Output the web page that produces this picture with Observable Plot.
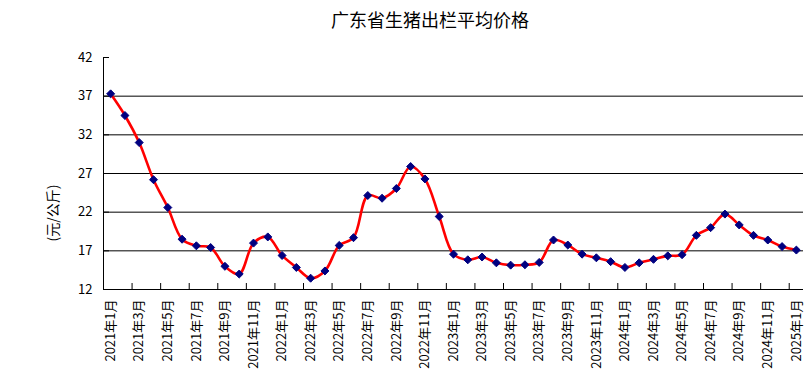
<!DOCTYPE html>
<html>
<head>
<meta charset="utf-8">
<script src="https://cdn.jsdelivr.net/npm/d3@7"></script>
<script src="https://cdn.jsdelivr.net/npm/@observablehq/plot@0.6"></script>
<style>
  html, body { margin: 0; padding: 0; background: #fff; }
  #wrap { position: relative; width: 810px; height: 386px; font-family: "Noto Sans CJK SC", sans-serif; }
  #title { position: absolute; left: 0; width: 860px; top: 9px; text-align: center; font-size: 18px; line-height: 20px; color: #000; }
  #ylab { position: absolute; left: 52px; top: 213px; transform: translate(-50%, -50%) rotate(-90deg); font-size: 14px; line-height: 16px; white-space: nowrap; color: #000; }
  #chart { position: absolute; left: 0; top: 0; }
</style>
</head>
<body>
<div id="wrap">
  <div id="chart"></div>
  <div id="title">广东省生猪出栏平均价格</div>
  <div id="ylab">(元/公斤)</div>
</div>
<script>
const months = [
  "2021年1月","2021年2月","2021年3月","2021年4月","2021年5月","2021年6月","2021年7月","2021年8月","2021年9月","2021年10月","2021年11月","2021年12月",
  "2022年1月","2022年2月","2022年3月","2022年4月","2022年5月","2022年6月","2022年7月","2022年8月","2022年9月","2022年10月","2022年11月","2022年12月",
  "2023年1月","2023年2月","2023年3月","2023年4月","2023年5月","2023年6月","2023年7月","2023年8月","2023年9月","2023年10月","2023年11月","2023年12月",
  "2024年1月","2024年2月","2024年3月","2024年4月","2024年5月","2024年6月","2024年7月","2024年8月","2024年9月","2024年10月","2024年11月","2024年12月",
  "2025年1月"
];
const prices = [
  37.3, 34.5, 31.0, 26.2, 22.6, 18.5, 17.65, 17.43, 15.0, 14.0, 18.0, 18.8,
  16.4, 14.85, 13.46, 14.4, 17.7, 18.7, 24.15, 23.8, 25.06, 27.9, 26.3, 21.44,
  16.57, 15.84, 16.2, 15.45, 15.15, 15.2, 15.5, 18.4, 17.75, 16.57, 16.1, 15.6,
  14.85, 15.45, 15.9, 16.35, 16.5, 19.0, 20.0, 21.75, 20.35, 19.0, 18.4, 17.55,
  17.1
];
const yTicks = [12, 17, 22, 27, 32, 37, 42];
const gridValues = [17, 22, 27, 32, 37];

const data = months.map((m, i) => ({i, month: m, price: prices[i]}));
const labelIdx = months.map((m, i) => i).filter(i => i % 2 === 0);
const tickIdx = months.map((m, i) => i - 0.5).filter((v, k) => k % 2 === 0);
const xMin = -0.5, xMax = months.length - 0.5;

const chart = Plot.plot({
  width: 810,
  height: 386,
  marginLeft: 103,
  marginRight: 7,
  marginTop: 57,
  marginBottom: 97,
  style: {fontFamily: "'Noto Sans CJK SC', sans-serif", fontSize: "13px", color: "#000", background: "transparent"},
  x: {type: "linear", domain: [xMin, xMax], label: null},
  y: {domain: [12, 42], label: null},
  marks: [
    Plot.gridY(gridValues, {stroke: "#000", strokeOpacity: 1, strokeWidth: 1}),
    Plot.ruleX([xMin], {stroke: "#000"}),
    Plot.ruleY([12], {stroke: "#000"}),
    Plot.axisY(yTicks, {tickSize: -6, tickFormat: () => "", stroke: "#000", label: null}),
    Plot.axisY(yTicks, {tickSize: 0, tickPadding: 11, label: null, fill: "#000", fontSize: 13}),
    Plot.axisX(tickIdx, {tickSize: -6, tickFormat: () => "", stroke: "#000", label: null}),
    Plot.axisX(labelIdx, {tickSize: 0, tickPadding: 10, tickRotate: -90, tickFormat: i => months[i], label: null, fill: "#000", fontSize: 13}),
    Plot.line(data, {x: "i", y: "price", stroke: "#ff0000", strokeWidth: 2.6, curve: "catmull-rom"}),
    Plot.dot(data, {x: "i", y: "price", symbol: "diamond2", r: 3.6, fill: "#000080", stroke: "#000080", strokeWidth: 1})
  ]
});
document.getElementById("chart").appendChild(chart);
</script>
</body>
</html>
